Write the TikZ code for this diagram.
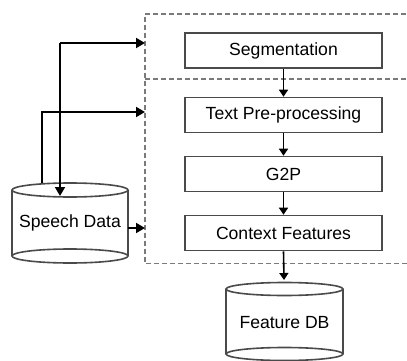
\documentclass[tikz,border=0pt]{standalone}
\usepackage{fontspec}
\setmainfont{Liberation Sans}
\usetikzlibrary{arrows.meta,calc}
\definecolor{edge}{HTML}{4A4A4A}
\definecolor{dashgray}{HTML}{7A7A7A}
\tikzset{
  stepbox/.style={draw=edge, line width=1.6pt, fill=white, minimum width=197pt,
    minimum height=35pt, inner sep=0pt, font=\fontsize{17.6}{20}\selectfont},
  groupbox/.style={inner sep=0pt},
  groupline/.style={draw=dashgray, line width=1.8pt, dash pattern=on 5pt off 3pt},
  cylline/.style={draw=edge, line width=1.6pt},
  flow/.style={black, line width=1.8pt, -{Triangle[width=10pt,length=9pt]}},
  shortflow/.style={black, line width=1.6pt, -{Triangle[width=9pt,length=7pt]}},
  label/.style={inner sep=0pt, font=\fontsize{17.6}{20}\selectfont}
}
\begin{document}
\begin{tikzpicture}[x=1pt,y=-1pt]
\useasboundingbox (0,0) rectangle (407,361);
\clip (0,0) rectangle (407,361);
\fill[white] (0,0) rectangle (407,361);

% dashed processing groups (they run past the right border)
\node[groupbox, minimum width=285pt, minimum height=65pt, anchor=north west] (grpA) at (145,14) {};
\node[groupbox, minimum width=285pt, minimum height=184pt, anchor=north west] (grpB) at (145,79) {};
\draw[groupline] (grpA.north east) -- (grpA.north west) -- (grpB.south west) -- (grpB.south east);
\draw[groupline] (grpB.north west) -- (grpB.north east);

% processing steps
\node[stepbox] (seg) at (283.5,50.5) {Segmentation};
\node[stepbox] (pre) at (283.5,115) {Text Pre-processing};
\node[stepbox] (g2p) at (283.5,174) {G2P};
\node[stepbox] (ctx) at (283.5,233) {Context Features};

\draw[shortflow] (seg.south) -- (pre.north);
\draw[shortflow] (pre.south) -- (g2p.north);
\draw[shortflow] (g2p.south) -- (ctx.north);

% Speech Data store
\node[label, minimum width=116pt, minimum height=66pt] (sd) at (70,223) {Speech Data};
\draw[cylline] (12,190) -- (12,256) (128,190) -- (128,256);
\draw[cylline] (70,190) ellipse [x radius=58, y radius=7];
\draw[cylline] (70,256) ellipse [x radius=58, y radius=7];

% Feature DB store
\node[label, minimum width=117pt, minimum height=65pt] (fdb) at (284.5,323) {Feature DB};
\draw[cylline] (226,289) -- (226,354) (343,289) -- (343,354);
\draw[cylline] (284.5,289) ellipse [x radius=58.5, y radius=6.5];
\draw[cylline] (284.5,354) ellipse [x radius=58.5, y radius=6.5];

\draw[shortflow] (ctx.south) -- (284,280);

% connections between the stores and the groups
\coordinate (j1) at (60,43);
\coordinate (j1in) at (60,196);
\coordinate (j2) at (42,112);
\coordinate (j2out) at (42,183);
\draw[flow] (j1) -- (j1 -| grpA.west);
\draw[flow] (j1) -- (j1in);
\draw[flow] (j2out) -- (j2) -- (j2 -| grpB.west);
\draw[flow] (sd.east |- 0,228) -- (grpB.west |- 0,228);
\end{tikzpicture}
\end{document}
